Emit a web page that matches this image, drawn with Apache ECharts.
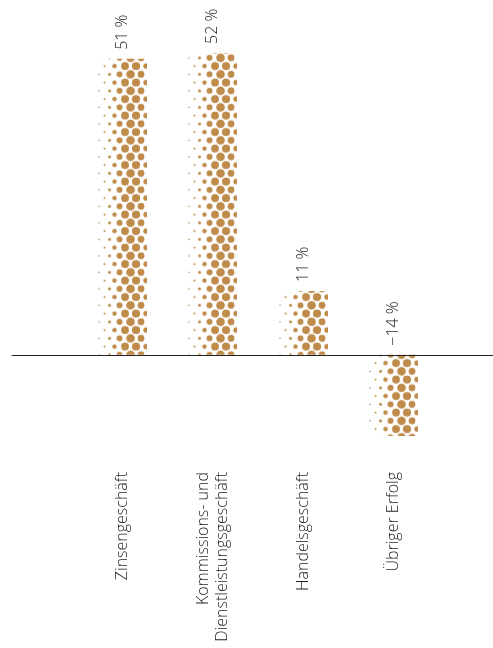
<!DOCTYPE html>
<html>
<head>
<meta charset="utf-8">
<style>
  html, body { margin: 0; padding: 0; background: #fff; }
  #chart { width: 493px; height: 648px; }
</style>
<script src="https://cdn.jsdelivr.net/npm/echarts@6/dist/echarts.min.js"></script>
</head>
<body>
<div id="chart"></div>
<script>
// Ertragsanteile nach Geschäftsfeld (in %)
const categories = ['Zinsengeschäft', 'Kommissions- und\nDienstleistungsgeschäft', 'Handelsgeschäft', 'Übriger Erfolg'];
const shares = [51, 52, 11, -14];
const shareLabels = ['51 %', '52 %', '11 %', '−14 %'];

const DOT_COLOR = '#bf8b4b';
const TEXT_COLOR = '#1e1e1e';
const FONT = '"Open Sans", "Noto Sans", sans-serif';

// Halftone columns for the bar fill: [x on a 50px-wide bar, dot radius].
// Neighbouring columns sit on alternating rows (honeycomb layout).
const dotColumns = [
  [2, 0.8], [7.5, 1.0], [12.5, 1.5], [17.5, 2.2], [22.5, 3.0],
  [28, 3.9], [33.5, 4.3], [39, 4.1], [44, 3.4], [49, 2.7]
];
const ROW_GAP = 8.25;
const PATTERN_ROWS = 4;

const patternCache = {};
function dotPattern(width) {
  const key = Math.round(width);
  if (patternCache[key]) return patternCache[key];
  const c = document.createElement('canvas');
  c.width = Math.max(1, key);
  c.height = Math.round(ROW_GAP * PATTERN_ROWS);
  const ctx = c.getContext('2d');
  ctx.fillStyle = DOT_COLOR;
  const k = c.width / 50;
  const gap = c.height / PATTERN_ROWS;
  dotColumns.forEach(function (col, i) {
    const cx = col[0] * k;
    for (let r = -1; r <= PATTERN_ROWS + 1; r++) {
      if ((r + i) % 2 !== 0) continue;
      ctx.beginPath();
      ctx.arc(cx, r * gap, col[1], 0, Math.PI * 2);
      ctx.fill();
    }
  });
  patternCache[key] = c;
  return c;
}

function renderBar(params, api) {
  const idx = api.value(0);
  const v = api.value(1);
  const top = api.coord([idx, Math.max(v, 0)]);
  const bottom = api.coord([idx, Math.min(v, 0)]);
  const zero = api.coord([idx, 0]);
  const w = api.size([1, 0])[0] * 0.553;
  const x = Math.round(top[0] - w / 2);
  const img = dotPattern(w);
  return {
    type: 'group',
    children: [
      {
        type: 'rect',
        shape: { x: x, y: top[1], width: img.width, height: bottom[1] - top[1] },
        style: { fill: { image: img, repeat: 'repeat', x: x, y: zero[1] } }
      },
      {
        type: 'text',
        x: top[0],
        y: (v >= 0 ? top[1] : zero[1]) - 9,
        rotation: Math.PI / 2,
        style: {
          text: shareLabels[idx],
          fill: TEXT_COLOR,
          font: '300 16px ' + FONT,
          align: 'left',
          verticalAlign: 'middle'
        }
      }
    ]
  };
}

const chart = echarts.init(document.getElementById('chart'), null, { renderer: 'canvas' });
chart.setOption({
  animation: false,
  backgroundColor: '#ffffff',
  grid: [
    { left: 76.75, right: 54.25, top: 53, bottom: 212 },
    { left: 12, right: 0, top: 53, bottom: 212 }
  ],
  xAxis: [
    {
      gridIndex: 0,
      type: 'category',
      data: categories,
      position: 'bottom',
      axisLine: { show: false, onZero: false },
      axisTick: { show: false },
      axisLabel: {
        rotate: 90,
        margin: 36,
        interval: 0,
        color: TEXT_COLOR,
        fontSize: 16,
        fontWeight: 300,
        lineHeight: 19,
        fontFamily: FONT
      }
    },
    {
      gridIndex: 1,
      type: 'category',
      data: [''],
      z: 5,
      axisLine: { show: true, onZero: true, lineStyle: { color: '#222222', width: 1 } },
      axisTick: { show: false },
      axisLabel: { show: false }
    }
  ],
  yAxis: [
    { gridIndex: 0, type: 'value', min: -14, max: 52, show: false },
    { gridIndex: 1, type: 'value', min: -14, max: 52, show: false }
  ],
  series: [
    {
      type: 'custom',
      xAxisIndex: 0,
      yAxisIndex: 0,
      renderItem: renderBar,
      data: shares.map(function (s, i) { return [i, s]; }),
      z: 2
    }
  ]
});
</script>
</body>
</html>
